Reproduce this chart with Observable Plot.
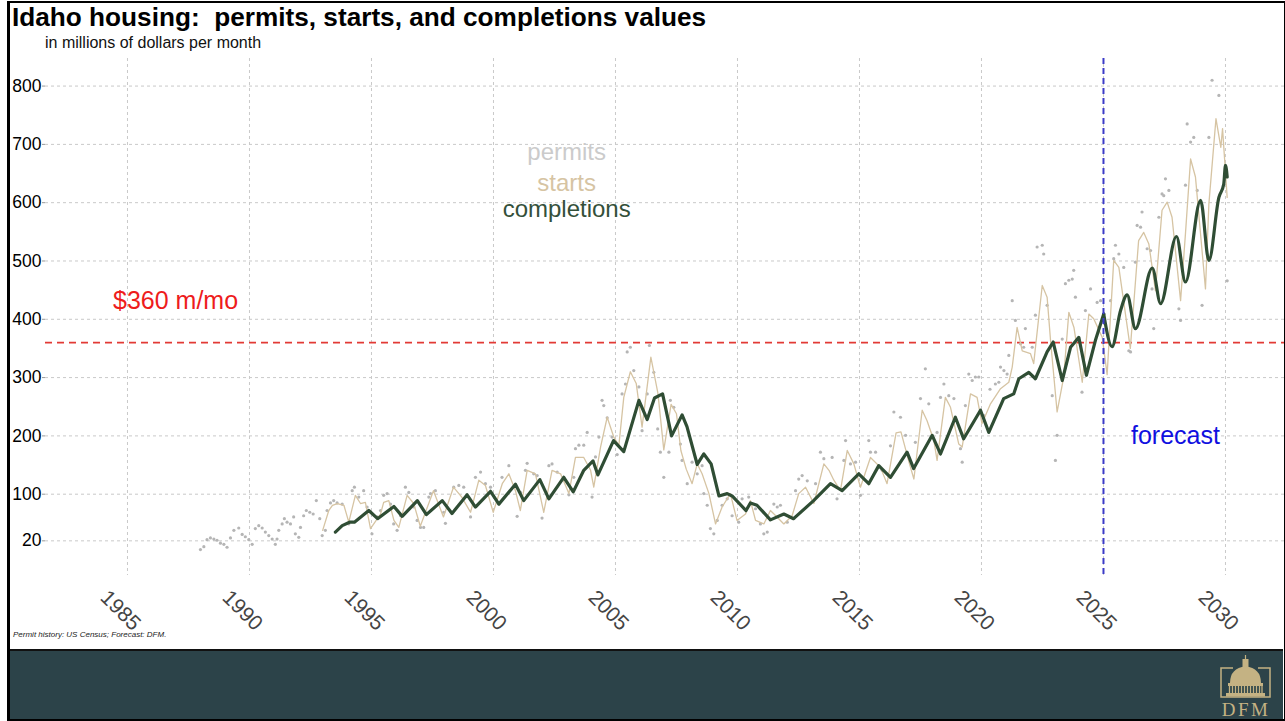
<!DOCTYPE html>
<html>
<head>
<meta charset="utf-8">
<script src="https://cdn.jsdelivr.net/npm/d3@7"></script>
<script src="https://cdn.jsdelivr.net/npm/@observablehq/plot@0.6"></script>
<style>
  html, body { margin: 0; padding: 0; background: #fff; }
  #wrap { position: relative; width: 1285px; height: 721px; overflow: hidden; background: #fff; font-family: Arial, "Liberation Sans", sans-serif; }
  #plot { position: absolute; left: 0; top: 0; }
  .title { position: absolute; left: 12px; top: 3.5px; font-size: 26.2px; font-weight: bold; line-height: 1; white-space: pre; color: #000; }
  .subtitle { position: absolute; left: 45px; top: 34.5px; font-size: 16px; line-height: 1; color: #111; }
  .caption { position: absolute; left: 13px; top: 631px; font-size: 8px; font-style: italic; line-height: 1; color: #222; }
  #footer { position: absolute; left: 9px; top: 649px; width: 1274px; height: 70px; background: #2c4349; border-top: 2px solid #111; }
  #frame { position: absolute; left: 7px; top: 1px; width: 1274px; height: 716px; border: 2px solid #000; border-left-width: 3px; pointer-events: none; }
  #logo { position: absolute; left: 1218px; top: 655px; }
</style>
</head>
<body>
<div id="wrap">
  <div id="plot"></div>
  <div class="title">Idaho housing:  permits, starts, and completions values</div>
  <div class="subtitle">in millions of dollars per month</div>
  <div class="caption">Permit history: US Census; Forecast: DFM.</div>
  <div id="footer"></div>
  <svg id="logo" width="56" height="64" viewBox="0 0 56 64">
    <g stroke="#c4b283" fill="none" stroke-width="1.5">
      <polyline points="15,13 3,13 3,42 52,42 52,13 40,13"/>
    </g>
    <g fill="#c4b283" stroke="none">
      <line x1="27.5" y1="0" x2="27.5" y2="6" stroke="#c4b283" stroke-width="1.2"/>
      <rect x="24.5" y="4" width="6" height="9"/>
      <path d="M12,28 Q12,13 27.5,11.5 Q43,13 43,28 Z"/>
      <rect x="10" y="28" width="35" height="3"/>
      <rect x="8" y="38" width="39" height="3.5"/>
    </g>
    <g stroke="#c4b283" stroke-width="1.3">
      <line x1="11.5" y1="31" x2="11.5" y2="38"/><line x1="14.5" y1="31" x2="14.5" y2="38"/>
      <line x1="17.5" y1="31" x2="17.5" y2="38"/><line x1="20.5" y1="31" x2="20.5" y2="38"/>
      <line x1="23.5" y1="31" x2="23.5" y2="38"/><line x1="26.5" y1="31" x2="26.5" y2="38"/>
      <line x1="29.5" y1="31" x2="29.5" y2="38"/><line x1="32.5" y1="31" x2="32.5" y2="38"/>
      <line x1="35.5" y1="31" x2="35.5" y2="38"/><line x1="38.5" y1="31" x2="38.5" y2="38"/>
      <line x1="41.5" y1="31" x2="41.5" y2="38"/><line x1="44" y1="31" x2="44" y2="38"/>
    </g>
    <text x="28" y="61" text-anchor="middle" font-family="'Liberation Serif','DejaVu Serif',serif" font-size="19" letter-spacing="2.5" fill="#c4b283">DFM</text>
  </svg>
  <div id="frame"></div>
</div>
<script>
// ---- tick labels ----
const xTicks = [1985, 1990, 1995, 2000, 2005, 2010, 2015, 2020, 2025, 2030];
const yTicks = [20, 100, 200, 300, 400, 500, 600, 700, 800];

// ---- permits (grey dots) ----
const permitYears = [1987.99,1988.13,1988.26,1988.4,1988.54,1988.67,1988.81,1988.95,1989.08,1989.22,1989.36,1989.56,1989.7,1989.83,1989.97,1990.11,1990.24,1990.38,1990.52,1990.65,1990.79,1990.93,1991.06,1991.13,1991.2,1991.34,1991.43,1991.54,1991.68,1991.81,1991.88,1992.02,1992.09,1992.22,1992.33,1992.47,1992.61,1992.74,1992.88,1992.98,1993.11,1993.18,1993.32,1993.45,1993.59,1993.8,1994.07,1994.21,1994.3,1994.48,1994.68,1994.82,1995.02,1995.23,1995.37,1995.5,1995.64,1995.78,1995.91,1996.05,1996.19,1996.39,1996.53,1996.73,1996.87,1997.01,1997.14,1997.35,1997.42,1997.62,1997.96,1998.03,1998.37,1998.58,1998.78,1999.06,1999.26,1999.47,1999.67,1999.88,2000.22,2000.35,2000.63,2000.97,2001.11,2001.31,2001.38,2001.65,2001.79,2001.99,2002.27,2002.4,2002.61,2002.88,2003.09,2003.29,2003.36,2003.5,2003.7,2003.84,2004.04,2004.18,2004.32,2004.45,2004.52,2004.66,2004.86,2005.07,2005.27,2005.41,2005.48,2005.61,2005.75,2005.96,2006.09,2006.3,2006.39,2006.57,2006.73,2006.84,2006.98,2007.19,2007.25,2007.39,2007.66,2007.73,2007.94,2008.14,2008.35,2008.55,2008.62,2008.76,2008.89,2009.03,2009.17,2009.37,2009.58,2009.78,2010.05,2010.19,2010.46,2010.74,2010.94,2011.08,2011.22,2011.49,2011.63,2011.76,2012.04,2012.31,2012.38,2012.51,2012.65,2012.86,2013.2,2013.4,2013.54,2013.88,2014.08,2014.36,2014.43,2014.63,2014.84,2015.04,2015.38,2015.45,2015.66,2015.93,2016.27,2016.41,2016.68,2016.89,2017.29,2017.5,2017.7,2017.84,2018.18,2018.32,2018.46,2018.66,2018.87,2019.14,2019.21,2019.34,2019.48,2019.62,2019.75,2019.89,2020.1,2020.35,2020.57,2020.71,2020.78,2020.92,2021.05,2021.12,2021.26,2021.39,2021.6,2021.73,2021.8,2022.08,2022.21,2022.28,2022.49,2022.55,2022.69,2022.9,2023.03,2023.1,2023.31,2023.44,2023.58,2023.72,2023.78,2023.85,2024.12,2024.26,2024.47,2024.74,2024.88,2025.29,2025.42,2025.49,2025.63,2025.83,2026.04,2026.11,2026.31,2026.38,2026.52,2026.58,2026.79,2026.93,2026.99,2027.06,2027.27,2027.4,2027.47,2027.54,2027.68,2028.09,2028.16,2028.36,2028.43,2028.57,2028.7,2028.84,2029.04,2029.32,2029.45,2029.73,2030.07];
const permitValues = [5,10,22,25,23,21,16,14,9,25,38,42,31,27,22,14,41,46,42,35,29,23,14,23,38,49,58,52,49,61,32,26,43,63,72,69,66,89,58,29,38,72,85,89,85,83,49,106,112,95,106,78,32,61,72,98,101,83,49,38,63,112,103,78,55,43,43,95,101,106,69,50,112,115,112,61,129,138,118,112,83,129,149,62,103,141,153,135,132,59,149,152,138,129,99,129,178,184,184,206,95,164,198,261,252,231,198,168,272,289,344,352,312,284,209,272,355,309,212,172,129,172,261,249,186,158,118,155,135,149,101,81,41,32,55,81,92,63,52,92,95,75,49,32,35,83,78,81,52,58,106,126,132,123,118,172,161,163,92,158,192,152,155,98,192,172,172,141,183,241,232,201,189,264,315,255,206,266,289,269,264,178,155,252,306,295,301,301,235,280,289,292,318,312,306,338,432,398,358,352,384,352,407,524,527,512,424,269,158,201,366,461,467,469,484,438,275,415,452,429,432,432,504,527,512,489,346,344,498,561,558,584,521,518,452,384,575,615,612,641,621,418,398,630,735,704,712,621,424,712,810,784,466];

// ---- starts (tan line) ----
const startYears = [1993.0,1993.25,1993.4,1993.6,1993.87,1994.07,1994.34,1994.55,1994.75,1994.96,1995.37,1995.5,1995.71,1995.92,1996.12,1996.46,1996.73,1997.0,1997.54,1997.95,1998.36,1998.7,1999.06,1999.4,1999.67,1999.99,2000.36,2000.63,2000.9,2001.1,2001.38,2001.72,2002.06,2002.4,2002.75,2003.09,2003.36,2003.7,2003.98,2004.11,2004.39,2004.66,2004.93,2005.14,2005.34,2005.61,2005.85,2006.09,2006.45,2006.74,2006.98,2007.28,2007.5,2007.68,2007.9,2008.14,2008.35,2008.55,2008.83,2009.1,2009.37,2009.71,2009.98,2010.33,2010.53,2010.74,2011.08,2011.35,2011.62,2011.9,2012.24,2012.51,2012.79,2013.13,2013.54,2013.75,2013.95,2014.22,2014.5,2014.77,2015.04,2015.45,2015.86,2016.13,2016.5,2016.7,2017.05,2017.23,2017.57,2017.77,2018.05,2018.18,2018.52,2018.73,2019.07,2019.21,2019.55,2019.82,2020.02,2020.37,2020.78,2021.12,2021.26,2021.46,2021.67,2022.01,2022.14,2022.49,2022.69,2022.83,2023.1,2023.37,2023.58,2023.79,2024.13,2024.4,2024.6,2024.95,2025.15,2025.42,2025.63,2026.1,2026.44,2026.65,2026.86,2027.13,2027.4,2027.61,2027.81,2028.16,2028.36,2028.57,2028.77,2029.18,2029.32,2029.61,2029.81,2029.88,2030.07];
const startValues = [38,72,81,84,81,52,98,84,86,41,66,86,89,55,43,98,84,45,106,61,112,95,69,124,115,69,118,135,106,72,141,135,69,141,135,101,163,163,141,112,181,232,198,184,266,310,290,215,335,273,176,254,238,175,143,118,152,135,101,49,78,101,55,66,89,55,49,72,61,49,63,101,112,84,152,141,124,106,175,152,112,163,146,118,205,207,152,126,244,226,192,158,266,249,186,181,272,266,221,255,281,292,318,386,346,341,324,458,438,364,241,301,412,386,292,409,401,369,305,501,489,350,535,549,529,449,587,601,575,432,547,675,644,452,598,744,695,727,609];

// ---- completions (dark green line) ----
const compYears = [1993.52,1993.8,1994.1,1994.3,1994.89,1995.25,1995.92,1996.26,1996.88,1997.25,1997.9,1998.3,1998.92,1999.26,1999.88,2000.22,2000.9,2001.24,2001.9,2002.27,2002.88,2003.27,2003.7,2004.08,2004.28,2004.92,2005.34,2005.96,2006.3,2006.6,2006.93,2007.3,2007.73,2007.93,2008.35,2008.62,2008.92,2009.24,2009.58,2009.78,2010.35,2010.53,2010.8,2011.35,2011.9,2012.3,2013.12,2013.81,2014.29,2014.97,2015.38,2015.79,2016.27,2016.95,2017.22,2017.98,2018.32,2018.93,2019.27,2019.96,2020.3,2020.91,2021.32,2021.53,2021.94,2022.21,2022.69,2022.94,2023.31,2023.65,2023.99,2024.3,2024.67,2025.01,2025.35,2025.7,2025.97,2026.31,2027.0,2027.34,2027.99,2028.36,2028.98,2029.32,2029.73,2029.93,2030.0,2030.07];
const compValues = [35,46,52,52,72,58,79,62,89,65,89,67,99,78,105,83,117,89,125,92,129,104,141,157,133,192,173,261,228,265,272,200,236,216,151,169,152,97,101,97,72,85,81,56,66,58,89,118,106,135,118,149,129,172,144,201,169,232,195,244,206,264,272,298,309,298,344,361,295,352,369,304,364,409,353,415,442,384,488,427,542,464,604,501,609,632,664,644];

// ---- reference lines & annotations ----
const thresholdValue = 360;
const forecastStart = 2025.0;
const legendLabels = ["permits", "starts", "completions"];
const legendColors = ["#cbcbcb", "#d6c4a3", "#34503a"];
const legendYears = [2003.0, 2003.0, 2003.0];
const legendValues = [686, 633, 588];
const thresholdLabel = "$360 m/mo";
const thresholdLabelPos = [1986.97, 432];
const forecastLabel = "forecast";
const forecastLabelPos = [2027.95, 200];

const permits = permitYears.map((t, i) => ({t, v: permitValues[i]}));
const starts = startYears.map((t, i) => ({t, v: startValues[i]}));
const comps = compYears.map((t, i) => ({t, v: compValues[i]}));
const legend = legendLabels.map((s, i) => ({s, c: legendColors[i], t: legendYears[i], v: legendValues[i]}));

const font = "Arial, 'Liberation Sans', sans-serif";

const chart = Plot.plot({
  width: 1285,
  height: 649,
  marginLeft: 45,
  marginRight: 0,
  marginTop: 58,
  marginBottom: 74,
  style: {fontFamily: font, background: "transparent", overflow: "visible"},
  x: {domain: [1981.64, 2032.46], axis: null},
  y: {domain: [-39.45, 847.3], axis: null},
  marks: [
    Plot.gridY(yTicks, {stroke: "#c9c9c9", strokeOpacity: 1, strokeDasharray: "3,3", strokeWidth: 1}),
    Plot.gridX(xTicks, {stroke: "#c9c9c9", strokeOpacity: 1, strokeDasharray: "3,3", strokeWidth: 1}),
    Plot.axisY(yTicks, {tickSize: 3, tickPadding: 1, fontSize: 17.5, fill: "#000", stroke: "#999", label: null}),
    Plot.text(xTicks, {x: d => d, text: d => String(d), frameAnchor: "bottom", dy: 35, dx: -7, rotate: 45,
      textAnchor: "middle", lineAnchor: "middle", fontSize: 21, fill: "#444"}),
    Plot.ruleY([thresholdValue], {stroke: "#e23a35", strokeWidth: 1.6, strokeDasharray: "7,5"}),
    Plot.dot(permits, {x: "t", y: "v", r: 1.6, fill: "#b5b5b5", stroke: "none"}),
    Plot.line(starts, {x: "t", y: "v", stroke: "#d6c4a3", strokeWidth: 1.3}),
    Plot.line(comps, {filter: d => d.t <= forecastStart + 0.02, x: "t", y: "v", stroke: "#2f4d34", strokeWidth: 3.2, strokeLinejoin: "round"}),
    Plot.line(comps, {filter: d => d.t >= forecastStart, x: "t", y: "v", stroke: "#2f4d34", strokeWidth: 3.2, strokeLinejoin: "round", curve: "monotone-x"}),
    Plot.ruleX([forecastStart], {stroke: "#3b3bc8", strokeWidth: 2, strokeDasharray: "6,4"}),
    Plot.text(legend, {x: "t", y: "v", text: "s", fill: "c", fontSize: 24, textAnchor: "middle", lineAnchor: "middle"}),
    Plot.text([thresholdLabel], {x: thresholdLabelPos[0], y: thresholdLabelPos[1], text: d => d, fill: "#ee1c1c", fontSize: 25, textAnchor: "middle", lineAnchor: "middle"}),
    Plot.text([forecastLabel], {x: forecastLabelPos[0], y: forecastLabelPos[1], text: d => d, fill: "#1010e0", fontSize: 25, textAnchor: "middle", lineAnchor: "middle"})
  ]
});
document.getElementById("plot").appendChild(chart);
</script>
</body>
</html>
